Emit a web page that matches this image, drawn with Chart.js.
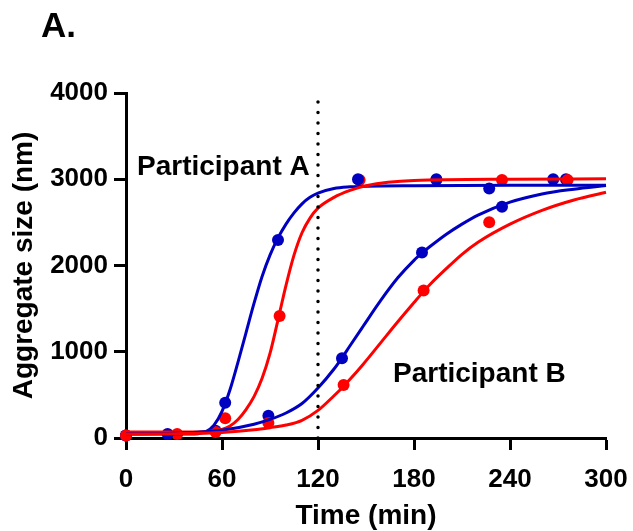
<!DOCTYPE html>
<html>
<head>
<meta charset="utf-8">
<script src="https://cdn.jsdelivr.net/npm/chart.js@4"></script>
<style>
  html, body { margin: 0; padding: 0; background: #fff; }
  #wrap { width: 633px; height: 531px; }
</style>
</head>
<body>
<div id="wrap"><canvas id="chart" width="633" height="531"></canvas></div>
<script>
// ---- data ----
const BLUE = '#0000c0';
const RED = '#ff0000';

// measured points
const aBlueT = [0, 26, 62, 95, 145, 194, 267];
const aBlueY = [30, 46, 409, 2296, 3000, 3000, 3000];
const aRedT = [0, 32, 62, 96, 146, 194, 235];
const aRedY = [30, 46, 228, 1414, 2990, 2990, 2990];
const bBlueT = [0, 56, 89, 135, 185, 227, 235, 275];
const bBlueY = [30, 85, 258, 924, 2151, 2894, 2682, 3000];
const bRedT = [0, 56, 89, 136, 186, 227, 276];
const bRedY = [30, 70, 175, 614, 1710, 2501, 2990];

// fitted curves
const fitA_T = [0, 40, 45, 50, 55, 60, 65, 70, 75, 80, 85, 90, 95, 100, 105, 110, 115, 120, 130, 140, 150, 180, 240, 300];
const fitABlue = [45, 45, 50, 75, 150, 310, 560, 880, 1220, 1560, 1870, 2120, 2320, 2480, 2610, 2715, 2790, 2840, 2893, 2912, 2920, 2926, 2930, 2930];
const fitARed = [70, 70, 70, 75, 85, 100, 140, 215, 330, 480, 690, 980, 1370, 1770, 2120, 2380, 2550, 2665, 2790, 2870, 2925, 2985, 3000, 3005];

const fitB_T = [0, 30, 60, 80, 90, 100, 110, 120, 130, 135, 140, 148, 159, 170, 180, 186, 190, 200, 210, 220, 240, 260, 280, 300];
const fitBBlue = [50, 55, 90, 160, 215, 290, 400, 580, 800, 930, 1070, 1290, 1590, 1860, 2060, 2160, 2220, 2360, 2480, 2585, 2735, 2830, 2885, 2926];
const fitBRed = [45, 50, 65, 95, 120, 150, 205, 320, 490, 580, 680, 850, 1100, 1350, 1570, 1700, 1780, 1960, 2130, 2270, 2480, 2640, 2760, 2849];

const xTicks = [0, 60, 120, 180, 240, 300];
const yTicks = [0, 1000, 2000, 3000, 4000];
const cutoffT = 120;

const pts = (t, y) => t.map((v, i) => ({ x: v, y: y[i] }));

function curve(t, y, color) {
    return {
        type: 'line',
        data: pts(t, y),
        borderColor: color,
        borderWidth: 3,
        pointRadius: 0,
        cubicInterpolationMode: 'monotone',
        fill: false,
        clip: false
    };
}

function dots(t, y, color) {
    return {
        type: 'scatter',
        data: pts(t, y),
        backgroundColor: color,
        borderColor: color,
        pointRadius: 6,
        borderWidth: 0,
        clip: false
    };
}

const FONT = '"Liberation Sans", Arial, sans-serif';

// texts drawn on top of the plot
const labelsPlugin = {
    id: 'labels',
    afterDraw(chart) {
        const c = chart.ctx;
        c.save();
        c.fillStyle = '#000';
        c.textBaseline = 'alphabetic';
        c.textAlign = 'left';
        c.font = 'bold 35px ' + FONT;
        c.fillText('A.', 41, 37);
        c.font = 'bold 28px ' + FONT;
        c.fillText('Participant A', 137, 175);
        c.fillText('Participant B', 393, 382);
        c.restore();
    }
};

const tickFont = { family: FONT, size: 26, weight: 'bold' };
const titleFont = { family: FONT, size: 28, weight: 'bold' };

new Chart(document.getElementById('chart'), {
    data: {
        datasets: [
            {
                type: 'line',
                data: [{ x: cutoffT, y: 0 }, { x: cutoffT, y: 4000 }],
                borderColor: '#000',
                borderWidth: 3.5,
                borderDash: [0, 10.5],
                borderCapStyle: 'round',
                pointRadius: 0
            },
            curve(fitB_T, fitBRed, RED),
            curve(fitB_T, fitBBlue, BLUE),
            curve(fitA_T, fitARed, RED),
            curve(fitA_T, fitABlue, BLUE),
            dots(bRedT, bRedY, RED),
            dots(bBlueT, bBlueY, BLUE),
            dots(aBlueT, aBlueY, BLUE),
            dots(aRedT, aRedY, RED)
        ]
    },
    options: {
        responsive: false,
        animation: false,
        layout: { padding: { left: 0, top: 93, right: 27, bottom: 0 } },
        plugins: {
            legend: { display: false },
            tooltip: { enabled: false }
        },
        scales: {
            x: {
                type: 'linear',
                min: 0,
                max: 300,
                afterBuildTicks: (s) => { s.ticks = xTicks.map(v => ({ value: v })); },
                afterFit: (s) => {
                    s.height = 93;
                    s.paddingLeft = 0;
                    s.paddingRight = 0;
                },
                ticks: { color: '#000', font: tickFont, padding: 14, callback: (v) => String(v) },
                grid: { drawOnChartArea: false, color: '#000', tickLength: 12, tickWidth: 3 },
                border: { display: true, color: '#000', width: 3 },
                title: {
                    display: true, text: 'Time (min)', color: '#000',
                    font: { family: FONT, size: 28, weight: 'bold', lineHeight: 1.0 },
                    padding: { top: 0, bottom: 1 }
                }
            },
            y: {
                type: 'linear',
                min: 0,
                max: 4000,
                afterBuildTicks: (s) => { s.ticks = yTicks.map(v => ({ value: v })); },
                afterFit: (s) => { s.width = 126; },
                ticks: { color: '#000', font: tickFont, padding: 6, callback: (v) => String(v) },
                grid: { drawOnChartArea: false, color: '#000', tickLength: 12, tickWidth: 3 },
                border: { display: true, color: '#000', width: 3 },
                title: {
                    display: true, text: 'Aggregate size (nm)', color: '#000',
                    font: titleFont, padding: { top: 7, bottom: 0 }
                }
            }
        }
    },
    plugins: [labelsPlugin]
});
</script>
</body>
</html>
